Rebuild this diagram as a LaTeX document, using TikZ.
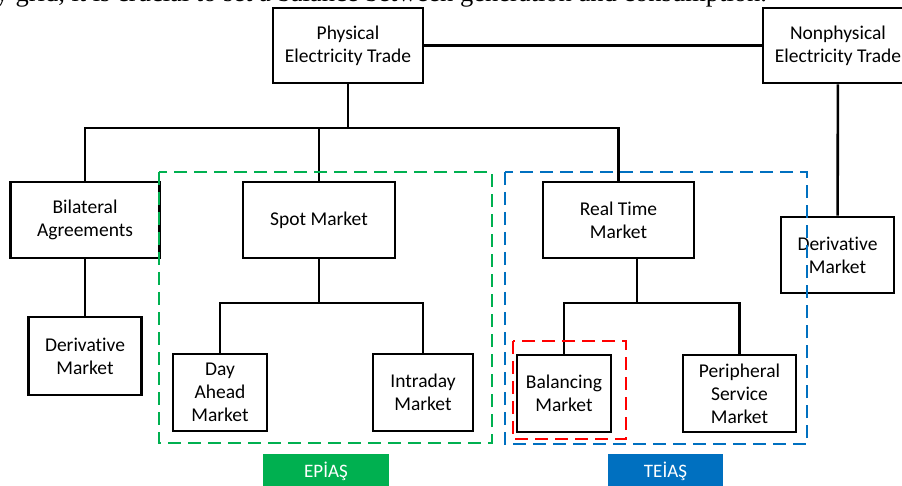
\documentclass[tikz,border=0pt]{standalone}
\usepackage{fontspec}
\setmainfont{Carlito}[Ligatures={NoCommon}]
\newfontfamily\bodyfont{Liberation Serif}
\usepackage{tikz}
\usetikzlibrary{calc}

\definecolor{epiasgreen}{HTML}{00B050}
\definecolor{teiasblue}{HTML}{0070C0}
\definecolor{balred}{HTML}{FF0000}

\begin{document}
\begin{tikzpicture}[x=1pt,y=-1pt,
	box/.style={draw,line width=2.6pt,fill=white,align=center,inner sep=0pt,
		font=\fontsize{19.5}{23}\selectfont},
	link/.style={line width=2.6pt},
	zone/.style={line width=2pt,dash pattern=on 13pt off 7pt},
	tag/.style={inner sep=0pt,text=white,font=\fontsize{19}{22}\selectfont}]
	%\draw[style=help lines,gray!50] (0,0) grid[step=50] (902,486);
	\clip (0,0) rectangle (902,486);
	\fill[white] (0,0) rectangle (902,486);

	\node[anchor=base west,inner sep=0pt,font=\bodyfont\fontsize{26.5}{30}\selectfont] at (-4.5,1.5) (body) {y grid, it is crucial to set a balance between generation and consumption.};

	\node[box,minimum width=150,minimum height=75] at (348,45.5) (phys) {Physical\\Electricity Trade};
	\node[box,minimum width=150,minimum height=75] at (838,45.5) (nonphys) {Nonphysical\\Electricity Trade};
	\node[box,minimum width=149,minimum height=76] at (85,220) (bilat) {Bilateral\\Agreements};
	\node[box,minimum width=113,minimum height=78] at (85,356) (derivl) {Derivative\\Market};
	\node[box,minimum width=152,minimum height=76] at (319,220) (spot) {Spot Market};
	\node[box,minimum width=94,minimum height=77] at (220,392.5) (dayahead) {Day\\Ahead\\Market};
	\node[box,minimum width=100,minimum height=77] at (423,392.5) (intraday) {Intraday\\Market};
	\node[box,minimum width=151,minimum height=76] at (618.5,220) (realtime) {Real Time\\Market};
	\node[box,minimum width=94,minimum height=77] at (564,393.5) (balancing) {Balancing\\Market};
	\node[box,minimum width=113,minimum height=77] at (739.5,393.5) (periph) {Peripheral\\Service\\Market};
	\node[box,minimum width=113,minimum height=76] at (837.5,255) (derivr) {Derivative\\Market};

	\coordinate (mainbus) at (348,128);
	\coordinate (spotbus) at (319,303);
	\coordinate (rtbus) at (637,303);

	\draw[link] (phys) -- (nonphys);
	\draw[link] (phys) -- (mainbus);
	\draw[link] (mainbus) -| (bilat);
	\draw[link] (mainbus) -| (spot);
	\draw[link] (mainbus) -| (realtime);
	\draw[link] (bilat) -- (derivl);
	\draw[link] (nonphys) -- (derivr);
	\draw[link] (spot) -- (spotbus);
	\draw[link] (spotbus) -| (dayahead);
	\draw[link] (spotbus) -| (intraday);
	\draw[link] (realtime.south -| rtbus) -- (rtbus);
	\draw[link] (rtbus) -| (balancing);
	\draw[link] (rtbus) -| (periph);

	\draw[zone,epiasgreen] (159,172) rectangle (492,443);
	\draw[zone,teiasblue] (505,172) rectangle (807,444);
	\draw[zone,balred] (513,341) rectangle (626,439);

	\fill[epiasgreen] (263,454) rectangle (389,500);
	\fill[teiasblue] (608,454) rectangle (723,500);
	\node[tag] at (326,471) (epias) {EPİAŞ};
	\node[tag] at (665.5,471) (teias) {TEİAŞ};
\end{tikzpicture}
\end{document}
